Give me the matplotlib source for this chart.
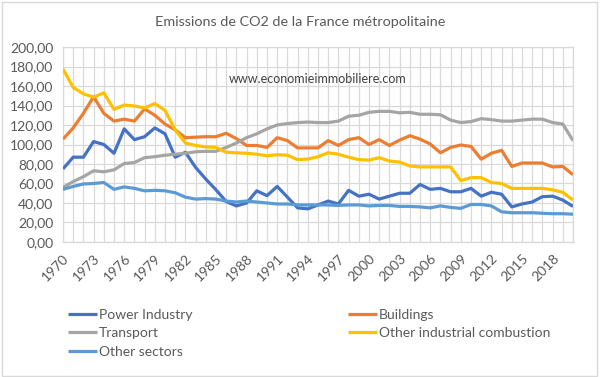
import matplotlib
matplotlib.use("Agg")
import matplotlib.pyplot as plt
from matplotlib.patches import Rectangle

plt.rcParams['font.family'] = ['Lato', 'DejaVu Sans']

years = list(range(1970, 2021))

power_industry = [75, 87, 87, 103, 100, 91, 116, 105, 108, 117, 111, 87, 92,
                  76.5, 64.5, 53.5, 41.5, 37, 40, 52.5, 47.5, 57, 46, 35, 34,
                  38, 42, 39, 53, 47, 49, 44, 47, 50, 50, 59, 54, 55, 51.5,
                  51.5, 55, 47, 51, 49, 36, 39, 41, 46.5, 47, 43, 36.5]
buildings = [105.5, 117, 132, 149, 132, 124, 126, 124, 136.5, 130, 121, 115, 107,
             107.5, 108, 108, 111.5, 106, 99, 99, 97, 107, 104, 96.5, 96.5,
             96.5, 104, 99, 105, 107, 100, 105, 99, 104.5, 109, 105.5, 100.5, 91.5, 97,
             99.5, 98, 85, 91, 94, 77.5, 81, 81, 81, 77, 77.5, 69]
transport = [56, 62, 67, 73, 72, 74, 80.5, 81.5, 86.5, 87.5, 89, 90, 91,
             92.5, 93, 93, 97, 101.5, 107, 111, 116, 120, 121.5, 122.5, 123,
             122.5, 122.5, 124, 129, 130, 133, 134, 134, 132.5, 133, 131, 131, 130.5, 125,
             122.5, 123.5, 126.5, 125.5, 124, 124, 125, 126, 126, 122.5, 121, 104]
other_industrial = [177.5, 158.5, 152, 148.5, 153, 136, 140.5, 139.5, 137.5, 142, 135, 115, 101.5,
                    99, 97.5, 97, 92, 91.5, 91, 90, 88.5, 89.5, 89, 84.5, 85,
                    87.5, 91.5, 90, 87, 84.5, 84, 86.5, 83, 82, 78, 77, 77, 77, 77,
                    63, 66, 66, 61, 60, 55, 55, 55, 55, 53.5, 51, 43]
other_sectors = [54, 57, 59.5, 60, 61, 54, 56.5, 55, 52.5, 53, 52.5, 50.5, 46,
                 44, 44.5, 44, 42, 41, 42, 41, 40, 39, 39, 38, 38,
                 38, 38, 37.5, 38, 38, 37, 37.5, 37.5, 36.5, 36.5, 36, 35, 37, 35.5,
                 34.5, 38.5, 38.5, 37, 31, 30, 30, 30, 29.5, 29, 29, 28.5]

series_names = ["Power Industry", "Buildings", "Transport",
                "Other industrial combustion", "Other sectors"]
series_values = [power_industry, buildings, transport, other_industrial, other_sectors]
colors = ["#4472C4", "#ED7D31", "#A5A5A5", "#FFC000", "#5B9BD5"]

yticks = [0, 20, 40, 60, 80, 100, 120, 140, 160, 180, 200]
ytick_labels = [f"{v:.2f}".replace(".", ",") for v in yticks]
xtick_years = years[::3]

W, H = 600, 377
fig = plt.figure(figsize=(6.0, 3.77), dpi=100)
fig.patch.set_facecolor("white")

# outer chart border
fig.add_artist(Rectangle((1.5 / W, 1 / H), (597 - 1.5) / W, (375 - 1) / H,
                         transform=fig.transFigure, fill=False,
                         edgecolor="#D9D9D9", linewidth=1.0))

ax = fig.add_axes([63 / W, 1 - 242 / H, (573 - 63) / W, (242 - 47) / H])

lines = {}
for name, vals, c in zip(series_names, series_values, colors):
    ln, = ax.plot(years, vals, color=c, linewidth=2.3, solid_joinstyle="round",
                  solid_capstyle="butt", label=name, zorder=3)
    lines[name] = ln

ax.set_xlim(years[0], years[-1])
ax.set_ylim(0, 200)
ax.set_yticks(yticks)
ax.set_yticklabels(ytick_labels)
ax.set_xticks(years, minor=True)
ax.set_xticks(xtick_years)
ax.set_xticklabels([str(y) for y in xtick_years], rotation=45, ha="right",
                   va="top", rotation_mode="anchor")

ax.grid(True, which="both", axis="x", color="#D9D9D9", linewidth=0.9, zorder=0)
ax.grid(True, which="major", axis="y", color="#D9D9D9", linewidth=0.9, zorder=0)
for s in ax.spines.values():
    s.set_color("#D9D9D9")
    s.set_linewidth(0.9)
ax.tick_params(axis="both", which="both", length=0, colors="#595959",
               labelsize=10)
ax.tick_params(axis="x", pad=7)
ax.tick_params(axis="y", pad=7)
ax.set_axisbelow(True)

ax.text(0.5, 0.835, "www.economieimmobiliere.com", transform=ax.transAxes,
        ha="center", va="center", fontsize=9, color="#404040")

fig.text(0.5, 1 - 21.5 / H, "Emissions de CO2 de la France métropolitaine",
         ha="center", va="center", fontsize=10.4, color="#595959")

leg_kw = dict(frameon=False, fontsize=10, handlelength=2.1, handletextpad=0.18,
              labelspacing=0.45, labelcolor="#595959", borderaxespad=0,
              borderpad=0)
col1 = ["Power Industry", "Transport", "Other sectors"]
col2 = ["Buildings", "Other industrial combustion"]
leg1 = fig.legend([lines[n] for n in col1], col1, loc="upper left",
                  bbox_to_anchor=(67.5 / W, 1 - 309 / H), **leg_kw)
leg2 = fig.legend([lines[n] for n in col2], col2, loc="upper left",
                  bbox_to_anchor=(347.5 / W, 1 - 309 / H), **leg_kw)

fig.savefig("out.png", dpi=100, facecolor="white")
